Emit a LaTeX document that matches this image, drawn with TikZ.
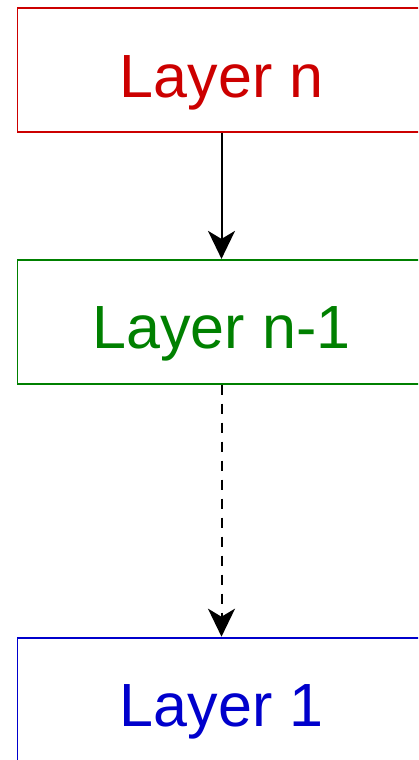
\documentclass[tikz,border=0pt]{standalone}
\usepackage{fontspec}
\setmainfont{Liberation Sans}
\usepackage{tikz}
\usetikzlibrary{positioning,arrows.meta}
\definecolor{layerred}{RGB}{204,0,0}
\definecolor{layergreen}{RGB}{0,128,0}
\definecolor{layerblue}{RGB}{0,0,204}
\tikzset{
    layer/.style={rectangle, draw, line width=1.8pt, minimum width=408pt, minimum height=124pt,
        inner sep=0pt, text height=54pt, text depth=0pt,
        font=\fontsize{61}{70}\selectfont},
    line/.style={-{Stealth[length=28pt, width=27pt, inset=8pt]}, line width=2pt},
    dashline/.style={line, dash pattern=on 10pt off 9pt},
}

\begin{document}
\begin{tikzpicture}
        [x=1pt, y=-1pt, node distance=126pt]
        \useasboundingbox (0,0) rectangle (418,760);
        \clip (0,0) rectangle (418,760);

        % Nodes of the layer stack
        \node[layer, draw=layerred, text=layerred] (layern) at (221.5,70) {Layer n};
        \node[layer, draw=layergreen, text=layergreen, below=of layern] (layernm) {Layer n-1};
        \node[layer, draw=layerblue, text=layerblue, below=252pt of layernm] (layerone) {Layer 1};

        % Lines
        \draw[line] (layern) -- (layernm);
        \draw[dashline] (layernm) -- (layerone);

    \end{tikzpicture}
\end{document}
